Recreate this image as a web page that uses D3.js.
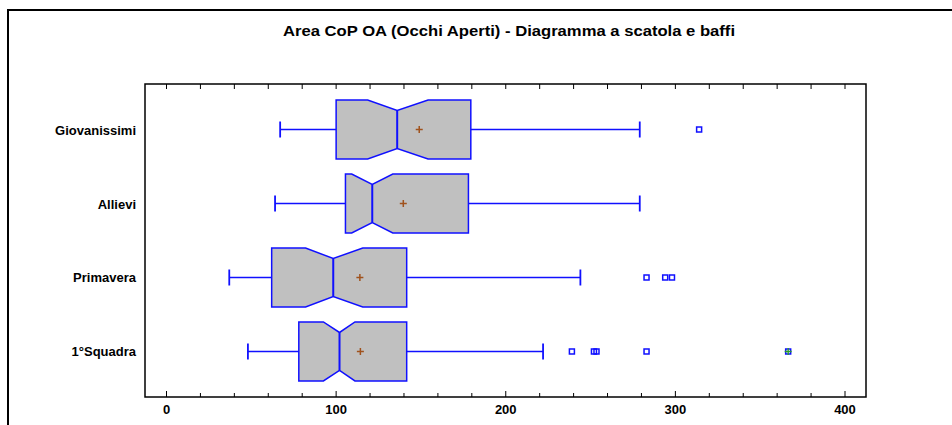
<!DOCTYPE html>
<html>
<head>
<meta charset="utf-8">
<script src="https://cdn.jsdelivr.net/npm/d3@7"></script>
<style>
  body { margin: 0; background: #fff; }
  svg { display: block; font-family: "Liberation Sans", Arial, sans-serif; }
</style>
</head>
<body>
<div id="chart"></div>
<script>
// ---- dati ----
const categories = ["Giovanissimi", "Allievi", "Primavera", "1°Squadra"];
const whiskerLow = [67, 64, 37, 48];
const q1 = [100, 105.5, 62, 78];
const median = [136, 121.3, 98.3, 102];
const q3 = [179.4, 178, 141.6, 141.6];
const whiskerHigh = [279, 279, 244, 222];
const notchLow = [118.6, 109.2, 82, 92.5];
const notchHigh = [154.2, 133.4, 115.7, 111.1];
const means = [149, 139.6, 114, 114.3];
const outliers = [[314], [], [283, 294, 298], [239, 252, 253.5, 283]];
const farOutliers = [[], [], [], [366.5]];
const xTicks = [0, 100, 200, 300, 400];
const title = "Area CoP OA (Occhi Aperti) - Diagramma a scatola e baffi";

const width = 952, height = 425;
const plot = { left: 145, right: 866, top: 84, bottom: 397 };

const svg = d3.select("#chart").append("svg")
  .attr("width", width).attr("height", height);

// cornice esterna
svg.append("rect")
  .attr("x", 8).attr("y", 10)
  .attr("width", 1000).attr("height", 500)
  .attr("fill", "none").attr("stroke", "#000").attr("stroke-width", 2);

svg.append("text")
  .attr("x", 509).attr("y", 36)
  .attr("text-anchor", "middle")
  .attr("font-weight", "bold").attr("font-size", 14)
  .attr("textLength", 452).attr("lengthAdjust", "spacingAndGlyphs")
  .text(title);

const x = d3.scaleLinear().domain([0, 400]).range([166.5, 845]);
const y = d3.scalePoint().domain(categories)
  .range([plot.top, plot.bottom]).padding(0.615);

// area del grafico
svg.append("rect")
  .attr("x", plot.left).attr("y", plot.top)
  .attr("width", plot.right - plot.left).attr("height", plot.bottom - plot.top)
  .attr("fill", "none").attr("stroke", "#000").attr("stroke-width", 1.5);

// tacche in alto e in basso
const minor = d3.range(0, 401, 20);
svg.append("g").selectAll("line").data(minor).join("line")
  .attr("x1", d => x(d)).attr("x2", d => x(d))
  .attr("y1", plot.top).attr("y2", plot.top + 5)
  .attr("stroke", "#000").attr("stroke-width", 1);
svg.append("g").selectAll("line").data(minor).join("line")
  .attr("x1", d => x(d)).attr("x2", d => x(d))
  .attr("y1", plot.bottom)
  .attr("y2", d => plot.bottom - (d % 100 === 0 ? 6 : 4))
  .attr("stroke", "#000").attr("stroke-width", 1);

svg.append("g").selectAll("text").data(xTicks).join("text")
  .attr("x", d => x(d)).attr("y", 414)
  .attr("text-anchor", "middle")
  .attr("font-weight", "bold").attr("font-size", 13)
  .text(d => d);

// etichette categorie
svg.append("g").selectAll("text").data(categories).join("text")
  .attr("x", 136).attr("y", d => y(d) + 5)
  .attr("text-anchor", "end")
  .attr("font-weight", "bold").attr("font-size", 13)
  .text(d => d);

const blue = "#1010ff";
const half = 29.5, inset = 10.5, cap = 8;

categories.forEach((c, i) => {
  const cy = y(c);
  const g = svg.append("g");
  const top = cy - half, bot = cy + half;

  // baffi
  g.append("line")
    .attr("x1", x(whiskerLow[i])).attr("x2", x(q1[i]))
    .attr("y1", cy).attr("y2", cy)
    .attr("stroke", blue).attr("stroke-width", 1.5);
  g.append("line")
    .attr("x1", x(q3[i])).attr("x2", x(whiskerHigh[i]))
    .attr("y1", cy).attr("y2", cy)
    .attr("stroke", blue).attr("stroke-width", 1.5);
  [whiskerLow[i], whiskerHigh[i]].forEach(v => {
    g.append("line")
      .attr("x1", x(v)).attr("x2", x(v))
      .attr("y1", cy - cap).attr("y2", cy + cap)
      .attr("stroke", blue).attr("stroke-width", 1.8);
  });

  // scatola con tacca
  const pts = [
    [x(q1[i]), top], [x(notchLow[i]), top], [x(median[i]), top + inset],
    [x(notchHigh[i]), top], [x(q3[i]), top], [x(q3[i]), bot],
    [x(notchHigh[i]), bot], [x(median[i]), bot - inset], [x(notchLow[i]), bot],
    [x(q1[i]), bot]
  ];
  g.append("path")
    .attr("d", d3.line()(pts) + "Z")
    .attr("fill", "#c0c0c0").attr("stroke", blue).attr("stroke-width", 1.5);
  g.append("line")
    .attr("x1", x(median[i])).attr("x2", x(median[i]))
    .attr("y1", top + inset).attr("y2", bot - inset)
    .attr("stroke", blue).attr("stroke-width", 2);

  // media
  g.append("path")
    .attr("d", `M${x(means[i]) - 3.5},${cy}h7M${x(means[i])},${cy - 3.5}v7`)
    .attr("stroke", "#a0521d").attr("stroke-width", 1.5);

  // valori anomali
  outliers[i].forEach(v => {
    g.append("rect")
      .attr("x", x(v) - 2.5).attr("y", cy - 2.5)
      .attr("width", 5).attr("height", 5)
      .attr("fill", "none").attr("stroke", blue).attr("stroke-width", 1.5);
  });
  farOutliers[i].forEach(v => {
    g.append("rect")
      .attr("x", x(v) - 2.5).attr("y", cy - 2.5)
      .attr("width", 5).attr("height", 5)
      .attr("fill", "none").attr("stroke", blue).attr("stroke-width", 1.5);
    g.append("path")
      .attr("d", `M${x(v) - 3.5},${cy}h7M${x(v)},${cy - 3.5}v7`)
      .attr("stroke", "#2a9d2a").attr("stroke-width", 1.3);
  });
});
</script>
</body>
</html>
